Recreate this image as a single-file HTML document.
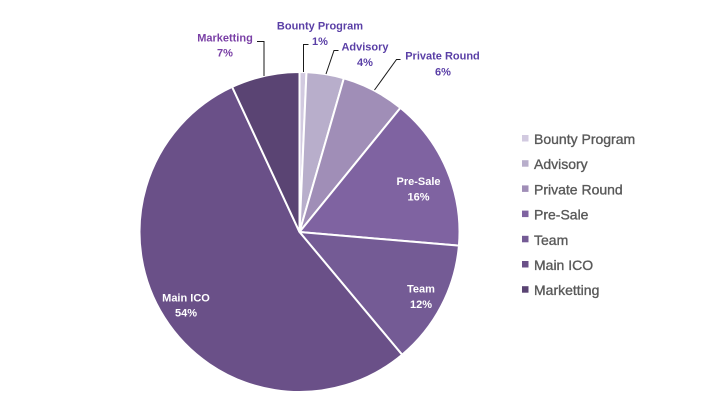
<!DOCTYPE html>
<html>
<head>
<meta charset="utf-8">
<style>
  html, body { margin:0; padding:0; background:#ffffff; }
  body { width:719px; height:400px; overflow:hidden; }
  svg { display:block; }
  .lbl { font-family:"Liberation Sans", sans-serif; font-size:11px; font-weight:bold; fill:#5a3fa6; }
  .in { font-family:"Liberation Sans", sans-serif; font-size:11px; font-weight:bold; fill:#ffffff; }
  .leg { font-family:"Liberation Sans", sans-serif; font-size:14px; fill:#595959; stroke:#595959; stroke-width:0.35px; }
</style>
</head>
<body>
<svg width="719" height="400" viewBox="0 0 719 400" xmlns="http://www.w3.org/2000/svg">
  <rect width="719" height="400" fill="#ffffff"/>
  <g stroke="#ffffff" stroke-width="2" stroke-linejoin="round">
    <path d="M299.5,232 L299.5,72 A160,160 0 0 1 306.48,72.15 Z" fill="#d2cae0"/>
    <path d="M299.5,232 L306.48,72.15 A160,160 0 0 1 343.87,78.28 Z" fill="#b8aecb"/>
    <path d="M299.5,232 L343.87,78.28 A160,160 0 0 1 400.41,107.83 Z" fill="#a08eb7"/>
    <path d="M299.5,232 L400.41,107.83 A160,160 0 0 1 458.92,245.67 Z" fill="#7f63a1"/>
    <path d="M299.5,232 L458.92,245.67 A160,160 0 0 1 402.13,354.75 Z" fill="#745b95"/>
    <path d="M299.5,232 L402.13,354.75 A160,160 0 1 1 232.13,86.87 Z" fill="#6a5088"/>
    <path d="M299.5,232 L232.13,86.87 A160,160 0 0 1 299.5,72 Z" fill="#5a4473"/>
  </g>

  <g fill="none" stroke="#1a1a1a" stroke-width="1">
    <polyline points="257,41.5 264,41.5 264,76"/>
    <polyline points="308.5,44.5 303.5,44.5 303.5,72"/>
    <polyline points="338.5,50.5 334,50.5 326,74"/>
    <polyline points="400.5,59.5 396.5,59.5 374.5,90"/>
  </g>

  <text class="lbl" x="225" y="41.5" text-anchor="middle" style="fill:#7a40a6">Marketting</text>
  <text class="lbl" x="225" y="56.5" text-anchor="middle" style="fill:#7a40a6">7%</text>

  <text class="lbl" x="320" y="29.5" text-anchor="middle">Bounty Program</text>
  <text class="lbl" x="320" y="45" text-anchor="middle">1%</text>

  <text class="lbl" x="365" y="50.7" text-anchor="middle">Advisory</text>
  <text class="lbl" x="365" y="66" text-anchor="middle">4%</text>

  <text class="lbl" x="442.5" y="59.3" text-anchor="middle">Private Round</text>
  <text class="lbl" x="443" y="75.3" text-anchor="middle">6%</text>

  <text class="in" x="418.5" y="185" text-anchor="middle">Pre-Sale</text>
  <text class="in" x="418.5" y="200.7" text-anchor="middle">16%</text>

  <text class="in" x="421" y="292.3" text-anchor="middle">Team</text>
  <text class="in" x="421" y="308" text-anchor="middle">12%</text>

  <text class="in" x="186" y="301.3" text-anchor="middle">Main ICO</text>
  <text class="in" x="186" y="316.7" text-anchor="middle">54%</text>

  <rect x="522" y="135" width="6.5" height="6.5" fill="#d2cae0"/>
  <text class="leg" x="534" y="144">Bounty Program</text>
  <rect x="522" y="160.2" width="6.5" height="6.5" fill="#b8aecb"/>
  <text class="leg" x="534" y="169.2">Advisory</text>
  <rect x="522" y="185.4" width="6.5" height="6.5" fill="#a08eb7"/>
  <text class="leg" x="534" y="194.4">Private Round</text>
  <rect x="522" y="210.6" width="6.5" height="6.5" fill="#7f63a1"/>
  <text class="leg" x="534" y="219.6">Pre-Sale</text>
  <rect x="522" y="235.8" width="6.5" height="6.5" fill="#745b95"/>
  <text class="leg" x="534" y="244.8">Team</text>
  <rect x="522" y="261" width="6.5" height="6.5" fill="#6a5088"/>
  <text class="leg" x="534" y="270">Main ICO</text>
  <rect x="522" y="286.2" width="6.5" height="6.5" fill="#5a4473"/>
  <text class="leg" x="534" y="295.2">Marketting</text>
</svg>
</body>
</html>
